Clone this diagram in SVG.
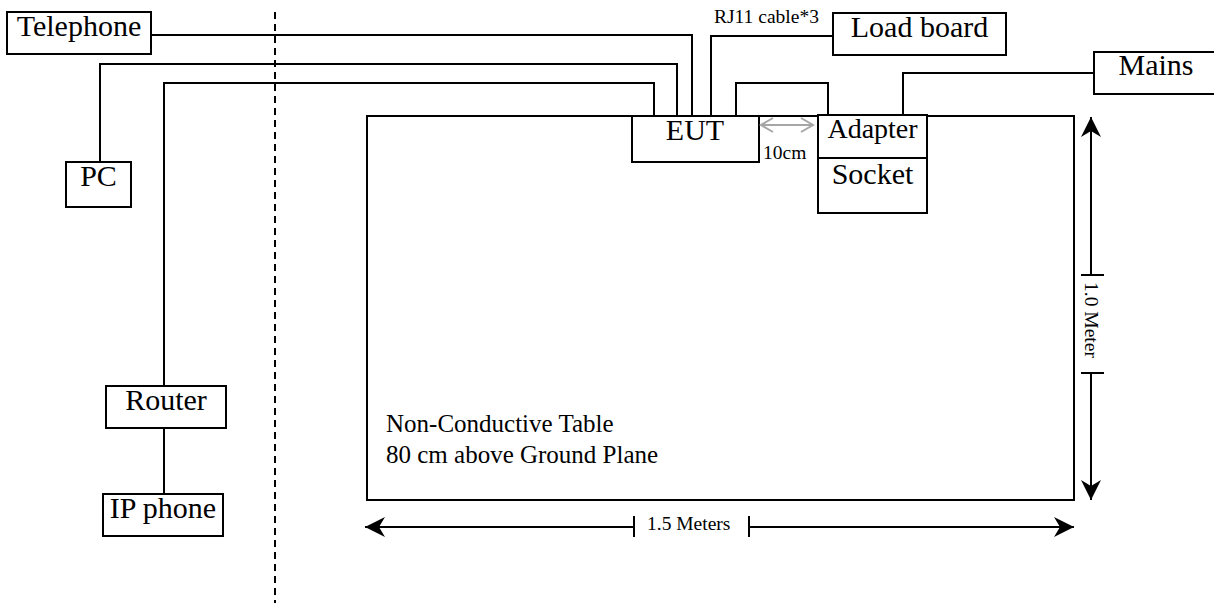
<svg xmlns="http://www.w3.org/2000/svg" width="1214" height="603" viewBox="0 0 1214 603">
<style>
.box{fill:#fff;stroke:#000;stroke-width:2}
.lbl{font-family:"Liberation Serif","Times New Roman",serif;font-size:30px;fill:#000;text-anchor:middle}
.sm{font-family:"Liberation Serif","Times New Roman",serif;font-size:19.5px;fill:#000}
.mid{font-family:"Liberation Serif","Times New Roman",serif;font-size:25px;fill:#000}
.wire{fill:none;stroke:#000;stroke-width:2}
.dim{fill:none;stroke:#000;stroke-width:2}
</style>
<defs>
<marker id="ah" markerUnits="userSpaceOnUse" markerWidth="22" markerHeight="22" refX="20" refY="10" orient="auto-start-reverse" viewBox="0 0 22 22">
<path d="M20,10 L0,0 L6,10 L0,20 Z" fill="#000"/>
</marker>
</defs>
<rect width="1214" height="603" fill="#fff"/>

<g id="table">
<rect x="367" y="116" width="707" height="384" fill="none" stroke="#000" stroke-width="2"/>
<text class="mid" x="386" y="432">Non-Conductive Table</text>
<text class="mid" x="386" y="463">80 cm above Ground Plane</text>
</g>

<g id="divider">
<line x1="275" y1="12" x2="275" y2="603" stroke="#000" stroke-width="2" stroke-dasharray="7 5"/>
</g>

<g id="connectors">
<polyline class="wire" points="151,35 692,35 692,116"/>
<polyline class="wire" points="100,162 100,64 677,64 677,116"/>
<polyline class="wire" points="164,386 164,83 654,83 654,116"/>
<line class="wire" x1="164" y1="428" x2="164" y2="494"/>
<polyline class="wire" points="711,116 711,36 833,36"/>
<polyline class="wire" points="736,116 736,83 828,83 828,115"/>
<polyline class="wire" points="903,115 903,73 1094,73"/>
</g>

<g id="telephone"><rect class="box" x="7" y="12" width="144" height="42"/><text class="lbl" x="79" y="36">Telephone</text></g>
<g id="pc"><rect class="box" x="66" y="162" width="65" height="45"/><text class="lbl" x="98.5" y="186">PC</text></g>
<g id="router"><rect class="box" x="106" y="386" width="120" height="42"/><text class="lbl" x="166" y="410">Router</text></g>
<g id="ipphone"><rect class="box" x="103" y="494" width="120" height="42"/><text class="lbl" x="163" y="518">IP phone</text></g>
<g id="eut"><rect class="box" x="632" y="116" width="127" height="46"/><text class="lbl" x="695" y="140">EUT</text></g>
<g id="loadboard"><rect class="box" x="833" y="13" width="173" height="42"/><text class="lbl" x="919.5" y="37">Load board</text></g>
<g id="adapter"><rect class="box" x="818" y="115" width="109" height="43"/><text class="lbl" x="872.5" y="138" style="font-size:28px">Adapter</text></g>
<g id="socket"><rect class="box" x="818" y="158" width="109" height="55"/><text class="lbl" x="872.5" y="184">Socket</text></g>
<g id="mains"><rect class="box" x="1094" y="52" width="140" height="42"/><text class="lbl" x="1156" y="75">Mains</text></g>

<g id="labels">
<text class="sm" x="714" y="23">RJ11 cable*3</text>
<text class="sm" x="763" y="159">10cm</text>
</g>

<g id="gap-dimension">
<line x1="761" y1="125" x2="813" y2="125" stroke="#a6a6a6" stroke-width="2"/>
<polyline points="773,118 761,125 773,132" fill="none" stroke="#a6a6a6" stroke-width="2"/>
<polyline points="801,118 813,125 801,132" fill="none" stroke="#a6a6a6" stroke-width="2"/>
</g>

<g id="width-dimension">
<line class="dim" x1="365" y1="527" x2="634" y2="527" marker-start="url(#ah)"/>
<line class="dim" x1="634" y1="516" x2="634" y2="537"/>
<line class="dim" x1="749" y1="527" x2="1074" y2="527" marker-end="url(#ah)"/>
<line class="dim" x1="749" y1="516" x2="749" y2="537"/>
<text class="sm" x="647" y="530">1.5 Meters</text>
</g>

<g id="height-dimension">
<line class="dim" x1="1091" y1="117" x2="1091" y2="275" marker-start="url(#ah)"/>
<line class="dim" x1="1081" y1="275" x2="1104" y2="275"/>
<line class="dim" x1="1091" y1="373" x2="1091" y2="500" marker-end="url(#ah)"/>
<line class="dim" x1="1081" y1="373" x2="1104" y2="373"/>
<text class="sm" transform="translate(1085,320) rotate(90)" text-anchor="middle">1.0 Meter</text>
</g>
</svg>
